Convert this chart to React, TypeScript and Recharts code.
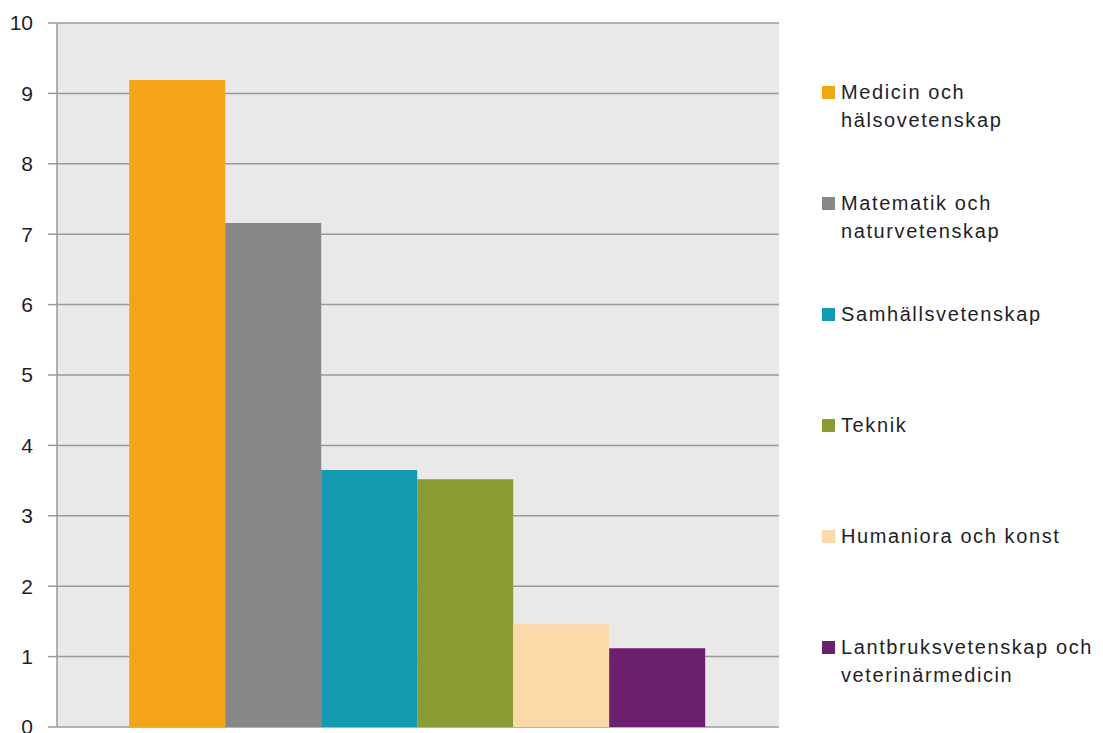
import React from "react";
import { BarChart, Bar, XAxis, YAxis, CartesianGrid, Legend } from "recharts";

const seriesKeys = ["med", "mat", "sam", "tek", "hum", "lant"];
const seriesNames = [
  "Medicin och hälsovetenskap",
  "Matematik och naturvetenskap",
  "Samhällsvetenskap",
  "Teknik",
  "Humaniora och konst",
  "Lantbruksvetenskap och veterinärmedicin",
];
const legendLines = [
  ["Medicin och", "hälsovetenskap"],
  ["Matematik och", "naturvetenskap"],
  ["Samhällsvetenskap"],
  ["Teknik"],
  ["Humaniora och konst"],
  ["Lantbruksvetenskap och", "veterinärmedicin"],
];
const seriesValues = [9.19, 7.16, 3.65, 3.52, 1.46, 1.12];
const seriesColors = ["#F4A418", "#878787", "#1399B0", "#8A9C33", "#FBD9A8", "#6B1F6F"];
const yTicks = [0, 1, 2, 3, 4, 5, 6, 7, 8, 9, 10];
const categories = [""];

const data = categories.map((c) => {
  const row: Record<string, any> = { name: c };
  seriesKeys.forEach((k, i) => (row[k] = seriesValues[i]));
  return row;
});

const FONT = '"Liberation Sans", Arial, sans-serif';

const LegendContent = () => (
  <div style={{ fontFamily: FONT, fontSize: 20, color: "#1e1e2a", letterSpacing: 1.6 }}>
    {legendLines.map((lines, i) => (
      <div key={i} style={{ height: 111, display: "flex", alignItems: "flex-start" }}>
        <div
          style={{
            width: 13,
            height: 13,
            background: seriesColors[i],
            marginTop: 7.5,
            marginRight: 6,
            flex: "none",
          }}
        />
        <div style={{ lineHeight: "28px", whiteSpace: "nowrap" }}>
          {lines.map((l, j) => (
            <div key={j}>{l}</div>
          ))}
        </div>
      </div>
    ))}
  </div>
);

export default function App() {
  return (
    <div style={{ position: "absolute", left: 0, top: 0, background: "#fff" }}>
      <BarChart
        width={1103}
        height={733}
        data={data}
        margin={{ top: 23, right: 324, bottom: 6, left: 0 }}
        barCategoryGap="10%"
        barGap={0}
      >
        <CartesianGrid
          vertical={false}
          fill="#e9e9e9"
          stroke="#9a9a9a"
          strokeWidth={1.5}
          fillOpacity={1}
        />
        <XAxis
          dataKey="name"
          height={0}
          tick={false}
          tickLine={false}
          axisLine={{ stroke: "#b4b4b4", strokeWidth: 1.5 }}
        />
        <YAxis
          domain={[0, 10]}
          ticks={yTicks}
          width={57}
          interval={0}
          tickSize={9}
          tickMargin={15}
          axisLine={{ stroke: "#9a9a9a", strokeWidth: 1.5 }}
          tickLine={{ stroke: "#9a9a9a", strokeWidth: 1.5 }}
          tick={{ fill: "#1e1e2a", fontSize: 21, fontFamily: FONT }}
        />
        <YAxis
          yAxisId="r"
          orientation="right"
          domain={[0, 10]}
          width={0}
          tick={false}
          tickLine={false}
          axisLine={{ stroke: "#9a9a9a", strokeWidth: 1.5 }}
        />
        {seriesKeys.map((k, i) => (
          <Bar
            key={k}
            dataKey={k}
            name={seriesNames[i]}
            fill={seriesColors[i]}
            isAnimationActive={false}
          />
        ))}
        <Legend
          layout="vertical"
          align="center"
          verticalAlign="middle"
          content={<LegendContent />}
          wrapperStyle={{ left: 822, top: 78, width: 281, transform: "none" }}
        />
      </BarChart>
    </div>
  );
}
